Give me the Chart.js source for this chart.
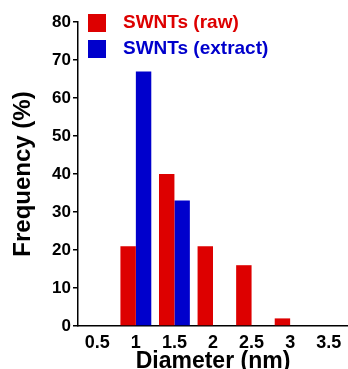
<!DOCTYPE html>
<html>
<head>
<meta charset="utf-8">
<script src="https://cdn.jsdelivr.net/npm/chart.js@4"></script>
<style>
  html, body { margin: 0; padding: 0; background: #fff; }
  #wrap { width: 348px; height: 369px; }
</style>
</head>
<body>
<div id="wrap"><canvas id="chart" width="348" height="369"></canvas></div>
<script>
const diameters = ['0.5', '1', '1.5', '2', '2.5', '3', '3.5'];
const rawFreq = [0, 21, 40, 21, 16, 2, 0];
const extractFreq = [0, 67, 33, 0, 0, 0, 0];
const seriesNames = ['SWNTs (raw)', 'SWNTs (extract)'];
const seriesColors = ['#dd0000', '#0000cc'];

const FONT = "'Liberation Sans', Arial, sans-serif";

// legend drawn inside the plot, top-left
const innerLegend = {
  id: 'innerLegend',
  afterDraw(chart) {
    const ctx = chart.ctx;
    ctx.save();
    ctx.font = 'bold 19px ' + FONT;
    ctx.textBaseline = 'middle';
    chart.data.datasets.forEach((ds, i) => {
      const y = 14 + i * 26;
      ctx.fillStyle = ds.backgroundColor;
      ctx.fillRect(88, y, 18, 18);
      ctx.fillText(ds.label, 123, y + 9);
    });
    ctx.restore();
  }
};

new Chart(document.getElementById('chart'), {
  type: 'bar',
  data: {
    labels: diameters,
    datasets: [
      { label: seriesNames[0], data: rawFreq, backgroundColor: seriesColors[0] },
      { label: seriesNames[1], data: extractFreq, backgroundColor: seriesColors[1] }
    ]
  },
  options: {
    responsive: false,
    animation: false,
    layout: { padding: { top: 22, right: 0, left: 0, bottom: 0 } },
    categoryPercentage: 0.8,
    barPercentage: 1.0,
    plugins: { legend: { display: false }, tooltip: { enabled: false } },
    scales: {
      x: {
        grid: { display: false, drawTicks: false },
        border: { display: true, color: '#000', width: 1.5 },
        ticks: { color: '#000', padding: 6, font: { family: FONT, size: 18, weight: 'bold' } },
        title: {
          display: true, text: 'Diameter (nm)', color: '#000',
          font: { family: FONT, size: 23, weight: 'bold', lineHeight: 0.6 },
          padding: { top: 0, bottom: 0 }
        },
        afterFit(scale) { scale.height = 43; }
      },
      y: {
        min: 0, max: 80,
        grid: { display: true, drawOnChartArea: false, drawTicks: true, tickLength: 5, color: '#000', lineWidth: 1.5 },
        border: { display: true, color: '#000', width: 1.5 },
        ticks: { stepSize: 10, color: '#000', padding: 2, font: { family: FONT, size: 17, weight: 'bold' } },
        title: {
          display: true, text: 'Frequency (%)', color: '#000',
          font: { family: FONT, size: 24, weight: 'bold', lineHeight: 1 },
          padding: { top: 11, bottom: 0 }
        },
        afterFit(scale) { scale.width = 78; }
      }
    }
  },
  plugins: [innerLegend]
});
</script>
</body>
</html>
